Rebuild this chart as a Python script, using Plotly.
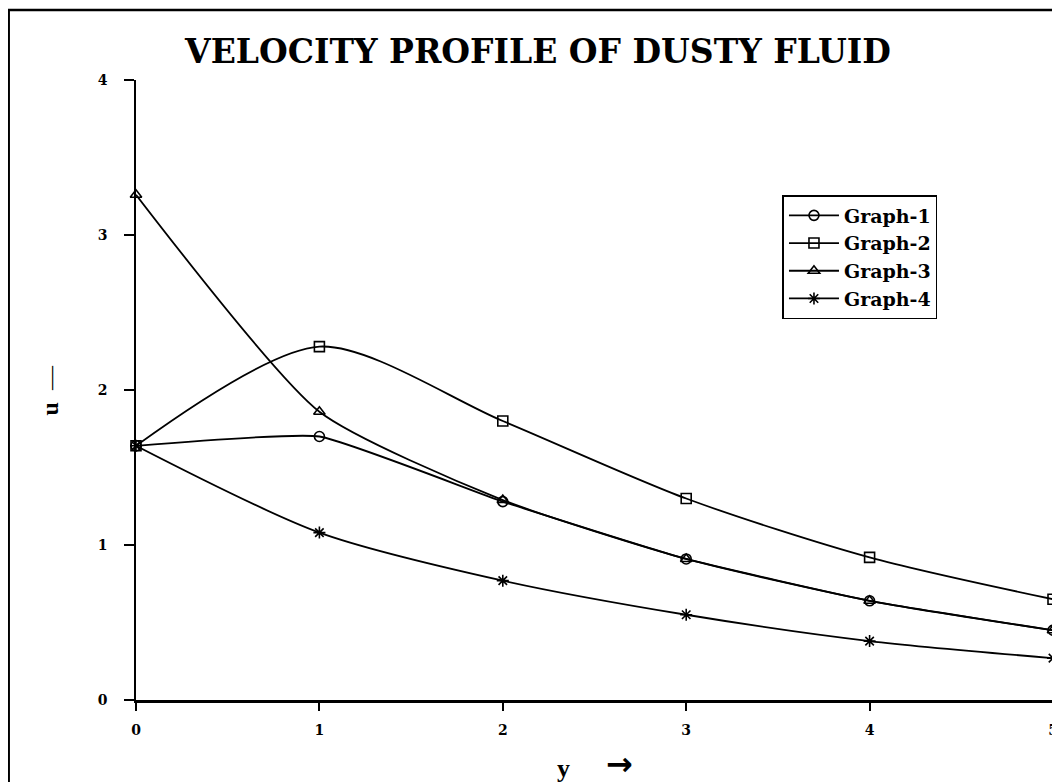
import plotly.graph_objects as go

y_pos = [0, 1, 2, 3, 4, 5]
graph1 = [1.64, 1.70, 1.28, 0.91, 0.64, 0.45]
graph2 = [1.64, 2.28, 1.80, 1.30, 0.92, 0.65]
graph3 = [3.26, 1.86, 1.29, 0.91, 0.64, 0.45]
graph4 = [1.64, 1.08, 0.77, 0.55, 0.38, 0.27]
names = ["Graph-1", "Graph-2", "Graph-3", "Graph-4"]
series = [graph1, graph2, graph3, graph4]

symbols = ["circle-open", "square-open", "triangle-up-open", "asterisk-open"]
smooth = [0.4, 0.8, 0.6, 0.8]

# plot area in screen pixels (page has an 8px body offset)
OFF = 8
PL, PR, PT, PB = 136, 1058, 80, 700
W, H = 1060, 782


def px(sx):
    return (sx - PL) / (PR - PL)


def py(sy):
    return (PB - sy) / (PB - PT)


fig = go.Figure()
for name, vals, sym, sm in zip(names, series, symbols, smooth):
    fig.add_trace(go.Scatter(
        x=y_pos, y=vals, name=name, mode="lines+markers",
        line=dict(color="black", width=1.8, shape="spline", smoothing=sm),
        marker=dict(symbol=sym, size=10, color="black", line=dict(width=1.6, color="black")),
        cliponaxis=False,
    ))

fig.update_layout(
    width=W, height=H,
    margin=dict(l=PL - OFF, r=W - (PR - OFF), t=PT - OFF, b=H - (PB - OFF)),
    paper_bgcolor="white", plot_bgcolor="white",
    showlegend=True,
    legend=dict(
        x=px(786), y=py(195), xanchor="left", yanchor="top",
        bordercolor="black", borderwidth=1.5, bgcolor="white",
        font=dict(family="DejaVu Serif", size=19, color="black", weight="bold"),
        tracegroupgap=0, itemwidth=50,
    ),
    title=dict(
        text="<b>VELOCITY PROFILE OF DUSTY FLUID</b>",
        x=(538 - OFF) / W, xanchor="center", y=1 - (51 - OFF) / H, yanchor="middle",
        font=dict(family="DejaVu Serif", size=33, color="black"),
    ),
)

fig.update_xaxes(
    range=[0, 5], tickvals=[0, 1, 2, 3, 4, 5],
    ticks="outside", ticklen=8, tickwidth=1.5, tickcolor="black",
    ticklabelstandoff=7,
    showline=True, linecolor="black", linewidth=2.5,
    showgrid=False, zeroline=False,
    tickfont=dict(family="DejaVu Serif", size=14, color="black", weight="bold"),
)
fig.update_yaxes(
    range=[0, 4], tickvals=[0, 1, 2, 3, 4],
    ticks="outside", ticklen=10, tickwidth=1.5, tickcolor="black",
    ticklabelstandoff=14,
    showline=True, linecolor="black", linewidth=1.5,
    showgrid=False, zeroline=False,
    tickfont=dict(family="DejaVu Serif", size=14, color="black", weight="bold"),
)

# axis titles
fig.add_annotation(
    xref="paper", yref="paper", x=px(566), y=py(768),
    text="<b>y</b>", showarrow=False,
    font=dict(family="Liberation Serif", size=26, color="black"),
    xanchor="center", yanchor="middle",
)
fig.add_annotation(
    xref="paper", yref="paper", x=px(622), y=py(764),
    text="<b>→</b>", showarrow=False,
    font=dict(family="DejaVu Sans", size=32, color="black"),
    xanchor="center", yanchor="middle",
)
fig.add_annotation(
    xref="paper", yref="paper", x=px(50), y=py(390),
    text="<b>u</b>  —", showarrow=False, textangle=-90,
    font=dict(family="Liberation Serif", size=24, color="black"),
    xanchor="center", yanchor="middle",
)

# outer frame
fig.add_shape(
    type="rect", xref="paper", yref="paper",
    x0=px(8), y0=py(800), x1=px(1080), y1=py(10),
    line=dict(color="black", width=2.5), layer="below",
)

fig.write_html("out.html")
